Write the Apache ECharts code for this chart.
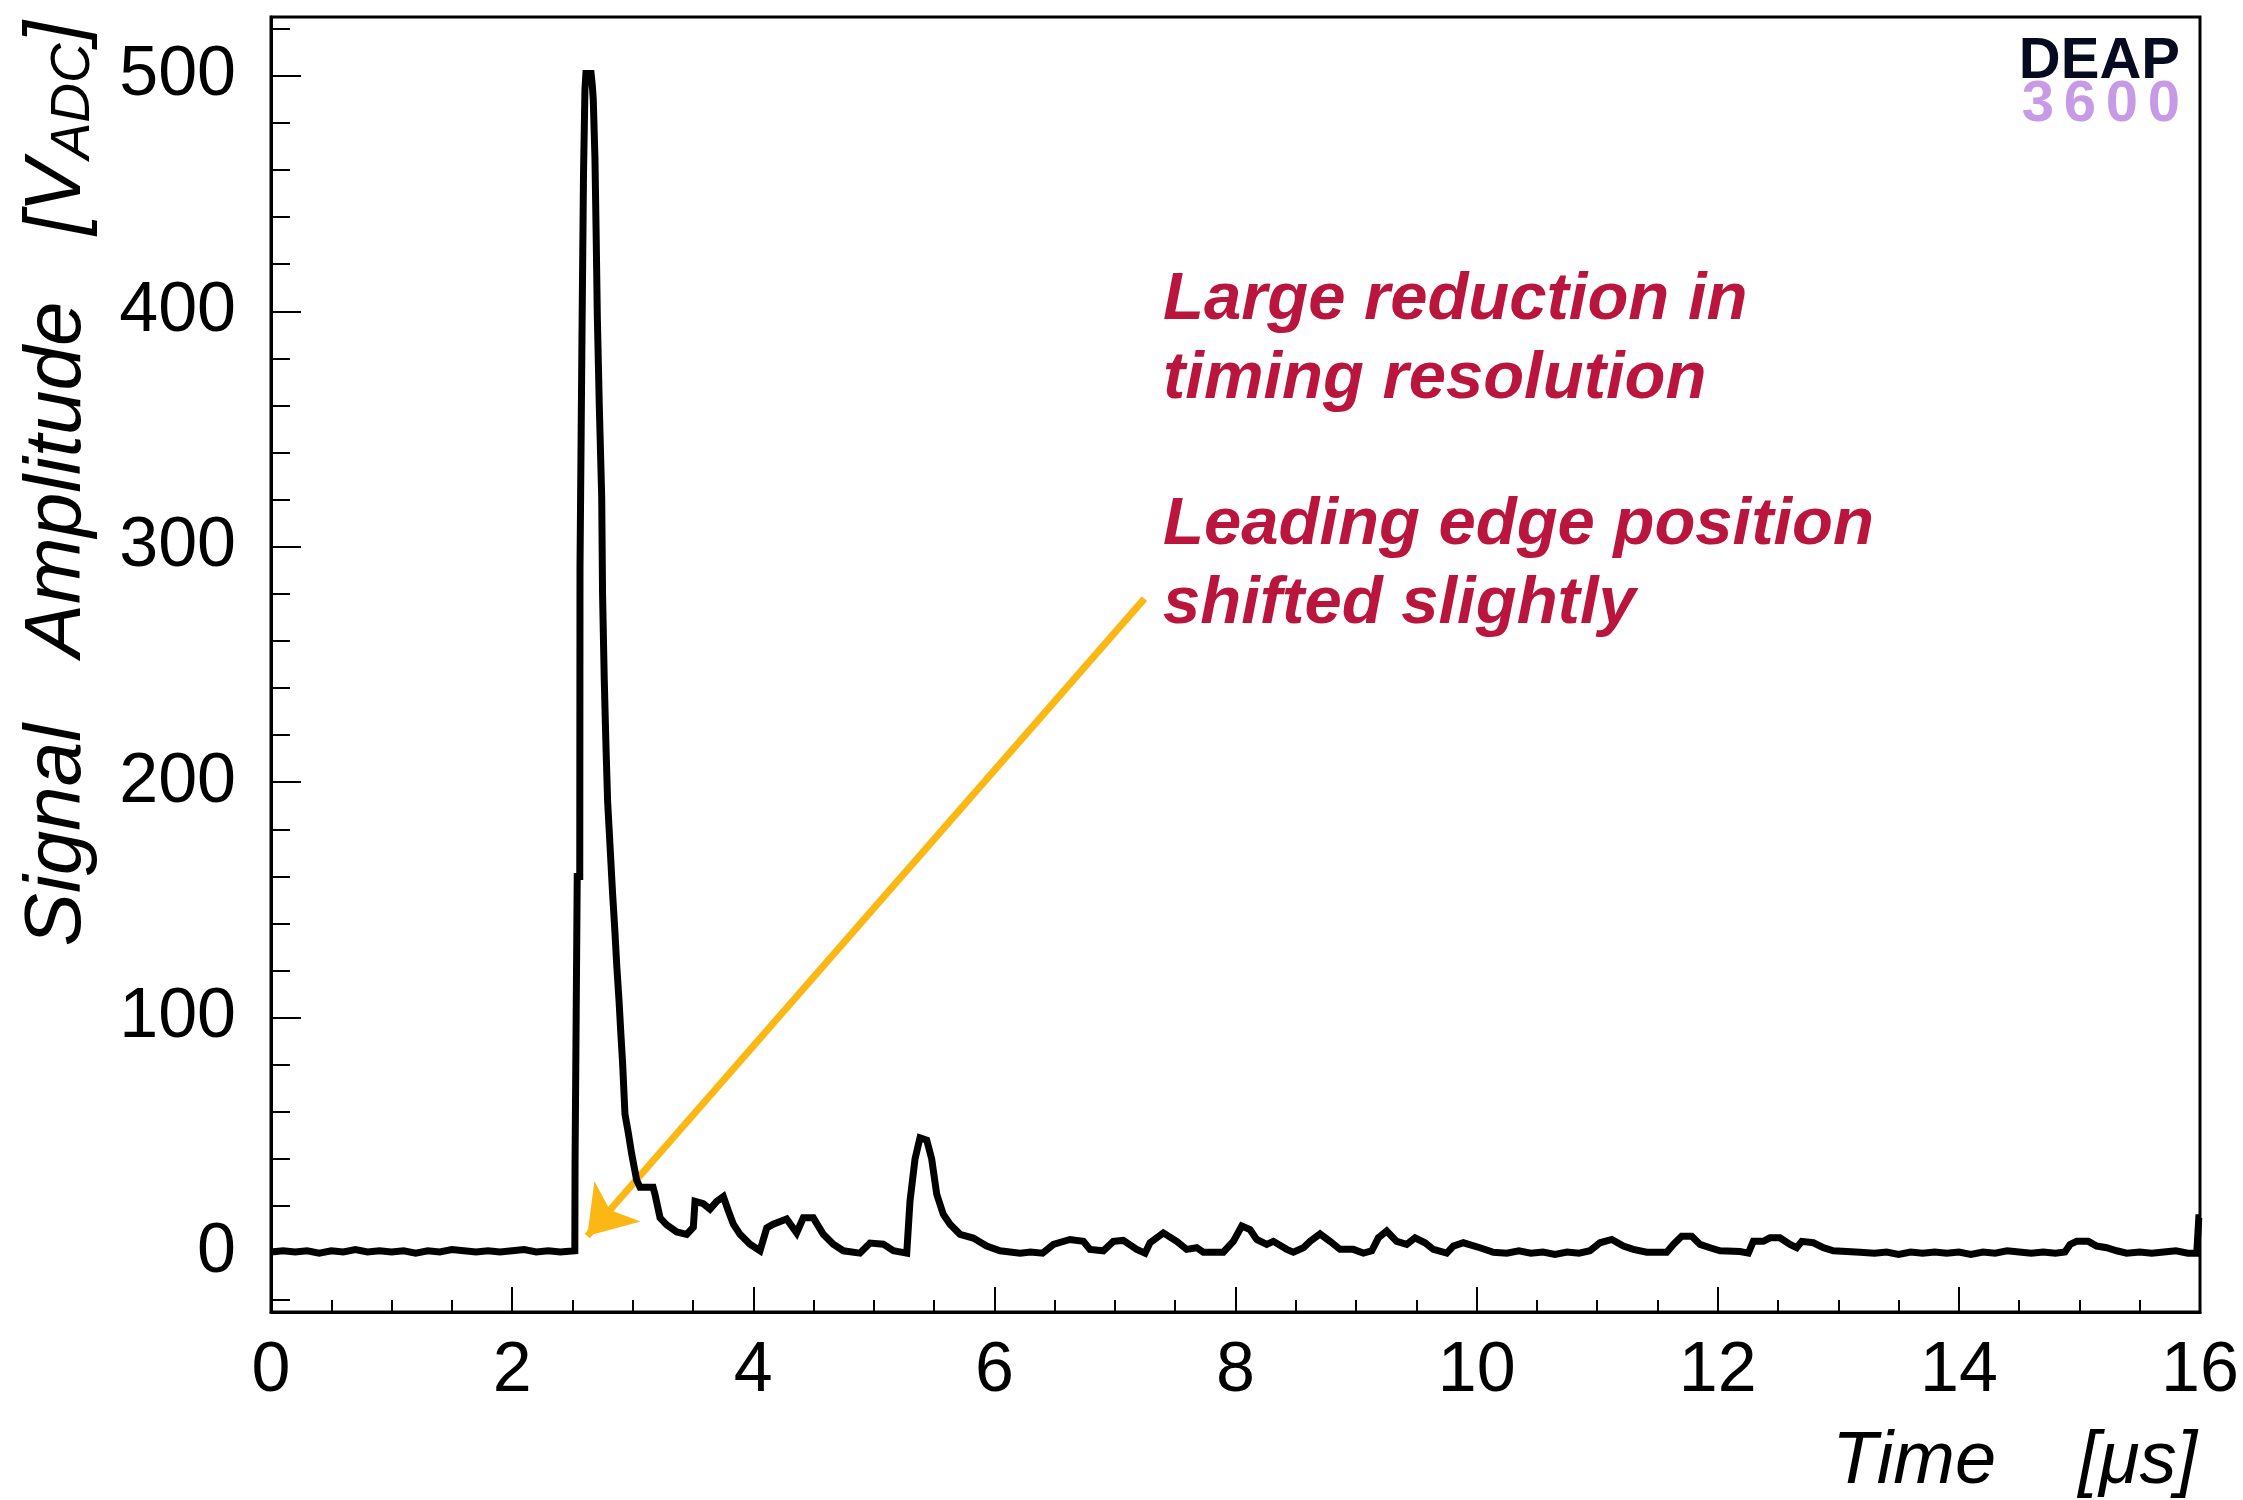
<!DOCTYPE html>
<html><head><meta charset="utf-8">
<script src="https://cdn.jsdelivr.net/npm/echarts@6/dist/echarts.min.js"></script>
<style>html,body{margin:0;padding:0;background:#fff}#c{width:2243px;height:1500px}</style>
</head><body><div id="c"></div>
<script>
// ---- data: [time in us, amplitude in V_ADC] ----
const preTrigger = [[0,0.5],[0.1,1],[0.2,0.5],[0.3,1],[0.4,0],[0.5,1],[0.6,0.5],[0.7,1.5],[0.8,0.5],[0.9,1],[1.0,0.5],[1.1,1],[1.2,0],[1.3,1],[1.4,0.5],[1.5,1.5],[1.6,1],[1.7,0.5],[1.8,1],[1.9,0.5],[2.0,1],[2.1,1.5],[2.2,0.5],[2.3,1],[2.4,0.5],[2.52,1]];
const mainPulse = [[2.522,39],[2.538,39],[2.540,160],[2.561,160],[2.563,291],[2.578,291],[2.580,393],[2.590,393],[2.592,458],[2.602,458],[2.604,494],[2.612,501],[2.655,501],[2.665,496],[2.673,490],[2.687,465],[2.696,436],[2.707,397],[2.723,360],[2.743,321],[2.750,280],[2.764,244],[2.778,216],[2.792,192],[2.813,172],[2.833,153],[2.852,137],[2.868,122],[2.887,107],[2.901,94],[2.917,80],[2.936,59],[2.964,51],[2.992,42],[3.033,31],[3.061,28],[3.169,28],[3.185,25],[3.227,15],[3.282,12],[3.365,9],[3.448,8],[3.503,11]];
const afterPulses = [[3.517,22],[3.586,21],[3.641,18.7],[3.697,22],[3.752,24],[3.793,18],[3.835,12.3],[3.890,8],[3.973,3.8],[4.056,1],[4.112,10.7],[4.166,12.3],[4.277,14.5],[4.360,8.6],[4.415,15],[4.498,15],[4.581,8],[4.664,3.8],[4.747,1],[4.885,0],[4.968,4.3],[5.079,3.8],[5.162,1],[5.273,0],[5.300,22],[5.342,40],[5.383,49],[5.439,48],[5.480,40],[5.522,25],[5.576,16.5],[5.632,12.3],[5.715,8],[5.825,6.4],[5.936,3],[6.047,1],[6.213,0],[6.3,0.5],[6.4,0]];
const midTail = [[6.489,3.7],[6.627,5.8],[6.738,5],[6.793,1.6],[6.904,1],[6.987,5],[7.069,5.4],[7.181,1.6],[7.250,0],[7.291,4.4],[7.401,8.6],[7.512,5],[7.595,1.6],[7.678,2.3],[7.733,0.4],[7.899,0.4],[7.982,5],[8.052,11.5],[8.120,10],[8.176,5.8],[8.259,3.7],[8.314,5],[8.425,1.6],[8.480,0.4],[8.563,2.3],[8.618,5],[8.701,8.2],[8.784,5],[8.867,1.6],[8.977,1.6],[9.060,0],[9.130,1],[9.185,6.5],[9.254,9.4],[9.337,5],[9.420,3.7],[9.489,6.5],[9.572,4.4],[9.641,1.6],[9.752,0],[9.807,3],[9.890,4.4],[10.028,2.3],[10.139,0.4]];
const lateTail = [[10.25,0],[10.35,1],[10.45,0],[10.55,0.5],[10.65,-0.5],[10.75,0.5],[10.85,0],[10.940,1],[11.023,4.4],[11.121,5.8],[11.217,3],[11.300,1.6],[11.411,0.4],[11.577,0.4],[11.632,3.7],[11.701,7.2],[11.784,7.2],[11.853,3.7],[11.936,2.3],[12.019,1],[12.185,0.7],[12.254,0],[12.295,5],[12.378,5],[12.433,6.5],[12.516,6.5],[12.599,3.7],[12.655,2.3],[12.697,5],[12.793,4.4],[12.876,2.3],[12.959,1],[13.180,0.4],[13.3,0],[13.4,0.5],[13.5,-0.5],[13.6,0.5],[13.7,0],[13.8,0.5],[13.9,0],[14.0,0.5],[14.1,-0.5],[14.2,0.5],[14.3,0],[14.4,1],[14.5,0.5],[14.6,0],[14.7,0.5],[14.8,0],[14.88,0.5],[14.922,3.7],[14.977,5],[15.074,5],[15.143,3],[15.226,2.3],[15.309,1],[15.392,0],[15.5,0.5],[15.6,0],[15.7,0.5],[15.8,1],[15.9,0],[15.973,0],[15.99,15],[16,15]];

const xRange = [0, 16];
const xStep = 2;
const yRange = [-25, 525];
const yMajorTicks = [0, 100, 200, 300, 400, 500];
const yMinorTicks = [-20, 20, 40, 60, 80, 120, 140, 160, 180, 220, 240, 260, 280, 320, 340, 360, 380, 420, 440, 460, 480, 520];

const yTitle = ['Signal   Amplitude   [V', 'ADC', ']'];
const xTitle = 'Time    [\u03bcs]';
const noteLines = ['Large reduction in', 'timing resolution', 'Leading edge position', 'shifted slightly'];
const arrowFrom = [7.245, 278];
const arrowTo = [2.623, 7.3];
const logoTop = 'DEAP';
const logoBottom = ['3', '6', '0', '0'];

const FONT = '"Liberation Sans", Arial, Helvetica, sans-serif';
const waveform = [].concat(preTrigger, mainPulse, afterPulses, midTail, lateTail);

const chart = echarts.init(document.getElementById('c'), null, {renderer: 'canvas'});

const graphics = [];
// annotation text
const noteY = [301, 380, 526, 605];
noteLines.forEach((t, i) => {
  graphics.push({type: 'text', x: 1163, y: noteY[i], z: 20,
    style: {text: t, font: 'italic bold 67px ' + FONT, fill: '#b9153d', align: 'left', verticalAlign: 'middle'}});
});
// logo
graphics.push({type: 'text', x: 2180, y: 62, z: 20,
  style: {text: logoTop, font: 'bold 58px ' + FONT, fill: '#060b1f', align: 'right', verticalAlign: 'middle'}});
logoBottom.forEach((d, i) => {
  graphics.push({type: 'text', x: 2038 + i * 42, y: 105, z: 19,
    style: {text: d, font: 'bold 58px ' + FONT, fill: '#c79ae6', align: 'center', verticalAlign: 'middle'}});
});
// axis titles
graphics.push({type: 'text', x: 58, y: 21, rotation: Math.PI / 2, z: 20,
  style: {
    text: '{a|' + yTitle[0] + '}{s|' + yTitle[1] + '}{a|' + yTitle[2] + '}',
    align: 'right', verticalAlign: 'middle',
    rich: {
      a: {font: 'italic 80px ' + FONT, fill: '#000', lineHeight: 88, verticalAlign: 'middle'},
      s: {font: 'italic 55px ' + FONT, fill: '#000', lineHeight: 88, verticalAlign: 'middle', padding: [32, 0, 0, 0]}
    }
  }});
graphics.push({type: 'text', x: 2197, y: 1462, z: 20,
  style: {text: xTitle, font: 'italic 74px ' + FONT, fill: '#000', align: 'right', verticalAlign: 'middle'}});

const option = {
  animation: false,
  backgroundColor: '#fff',
  grid: {left: 271, top: 17, width: 1929, height: 1295, show: true, borderColor: '#000', borderWidth: 3,
    backgroundColor: 'transparent', containLabel: false, outerBoundsMode: 'none'},
  xAxis: {
    type: 'value', min: xRange[0], max: xRange[1], interval: xStep,
    axisLine: {show: true, onZero: false, lineStyle: {color: '#000', width: 3}},
    axisTick: {show: true, inside: true, length: 25, lineStyle: {color: '#000', width: 2}},
    minorTick: {show: true, splitNumber: 4, length: 12, lineStyle: {color: '#000', width: 2}},
    axisLabel: {fontSize: 70, fontFamily: FONT, color: '#000', margin: 25},
    splitLine: {show: false}, minorSplitLine: {show: false}
  },
  yAxis: [{
    type: 'value', min: yRange[0], max: yRange[1],
    axisLine: {show: true, onZero: false, lineStyle: {color: '#000', width: 3}},
    axisTick: {show: true, inside: true, length: 30, customValues: yMajorTicks, lineStyle: {color: '#000', width: 2}},
    axisLabel: {fontSize: 70, fontFamily: FONT, color: '#000', margin: 35, customValues: yMajorTicks},
    splitLine: {show: false}
  }, {
    type: 'value', min: yRange[0], max: yRange[1], position: 'left',
    axisLine: {show: false},
    axisTick: {show: true, inside: true, length: 19, customValues: yMinorTicks, lineStyle: {color: '#000', width: 2}},
    axisLabel: {show: false},
    splitLine: {show: false}
  }],
  series: [{
    type: 'line', name: 'waveform', data: waveform, xAxisIndex: 0, yAxisIndex: 0,
    showSymbol: false, symbol: 'none', clip: true,
    lineStyle: {color: '#000', width: 7, join: 'miter'}, z: 5
  }, {
    type: 'line', name: 'arrow', data: [], xAxisIndex: 0, yAxisIndex: 0, z: 10,
    markLine: {
      silent: true, animation: false, symbol: ['none', 'arrow'], symbolSize: 46,
      label: {show: false},
      lineStyle: {color: '#fbb713', width: 7, type: 'solid'},
      itemStyle: {color: '#fbb713'},
      emphasis: {disabled: true},
      data: [[{coord: arrowFrom}, {coord: arrowTo}]]
    }
  }],
  graphic: graphics
};
chart.setOption(option);
</script>
</body></html>
